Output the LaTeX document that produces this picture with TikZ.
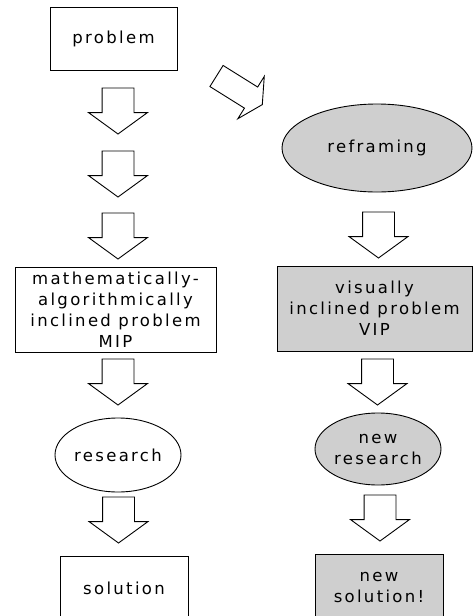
\documentclass[tikz,border=0pt]{standalone}
\usepackage{fontspec}
\setmainfont[LetterSpace=14]{DejaVu Sans}
\usetikzlibrary{shapes.geometric,shapes.arrows}
\definecolor{grisclair}{RGB}{207,207,207}
\tikzstyle{boite} = [draw,line width=0.9pt,align=center,inner sep=0pt,font=\fontsize{16.5}{21}\selectfont]
\tikzstyle{bulle} = [boite,ellipse]
\tikzstyle{grise} = [fill=grisclair]
\tikzstyle{fleche} = [draw,single arrow,line width=0.9pt,inner sep=15.5pt,outer sep=0pt,minimum height=46pt,minimum width=58pt,single arrow head extend=13.5pt,single arrow tip angle=108,anchor=tail,rotate=-90]

\begin{document}
\begin{tikzpicture}[x=1pt,y=-1pt]
	\useasboundingbox (0,0) rectangle (473,616);

	% colonne de gauche
	\node[boite,minimum width=127pt,minimum height=63pt] (probleme) at (113.5,38.5) {problem};
	\node[boite,minimum width=201pt,minimum height=85pt] (mip) at (115.5,309.5) {mathematically-\\algorithmically\\inclined problem\\MIP};
	\node[bulle,minimum width=126pt,minimum height=74pt] (recherche) at (118,455) {research};
	\node[boite,minimum width=128pt,minimum height=64pt] (solution) at (124,588) {solution};

	\node[fleche] (f1) at (118,88) {};
	\node[fleche] (f2) at (118,151) {};
	\node[fleche] (f3) at (118,213) {};
	\node[fleche] (f4) at (118,359) {};
	\node[fleche] (f5) at (118.5,497) {};

	% colonne de droite
	\node[bulle,grise,minimum width=190pt,minimum height=88pt] (recadrage) at (377,148) {reframing};
	\node[boite,grise,minimum width=195pt,minimum height=85pt] (vip) at (374.5,308.5) {visually\\inclined problem\\VIP};
	\node[bulle,grise,minimum width=126pt,minimum height=72pt] (nouvrech) at (378,449) {new\\research};
	\node[boite,grise,minimum width=128pt,minimum height=66pt] (nouvsol) at (379,587) {new\\solution!};

	\node[fleche] (g1) at (378.5,212) {};
	\node[fleche] (g2) at (377.5,359) {};
	\node[fleche] (g3) at (380,495) {};

	% fleche oblique
	\node[fleche,inner sep=12pt,minimum height=54pt,minimum width=49pt,single arrow head extend=12.5pt,single arrow tip angle=124,rotate=-32+90] (oblique) at (216.5,76) {};

\end{tikzpicture}
\end{document}
